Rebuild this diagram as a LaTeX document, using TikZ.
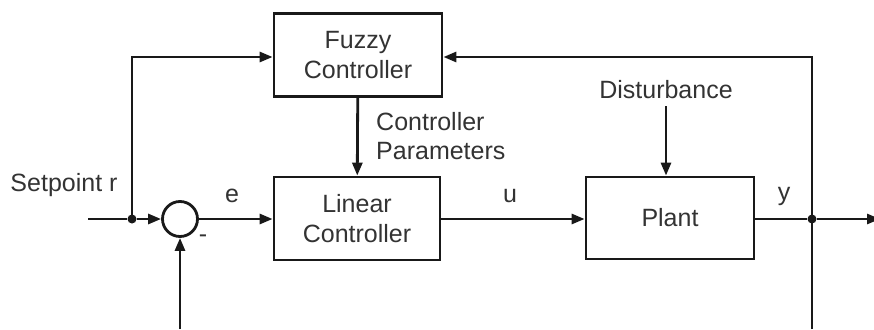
\documentclass[tikz,border=0pt]{standalone}
\usepackage{fontspec}
\setmainfont{Liberation Sans}
\usetikzlibrary{arrows.meta}
\begin{document}
\begin{tikzpicture}[x=1pt,y=-1pt,
  blk/.style={draw=black!90, line width=2.8pt, minimum width=168pt, minimum height=83pt, inner sep=0pt, align=center, text=black!80, font=\fontsize{25}{30}\selectfont},
  lbl/.style={text=black!80, font=\fontsize{25}{29}\selectfont, inner sep=0pt},
  wire/.style={line width=2.8pt, draw=black!90},
  arr/.style={wire, -{Triangle[length=13pt,width=10pt]}},
  dot/.style={circle, fill=black!90, minimum size=9pt, inner sep=0pt}]
\useasboundingbox (0,0) rectangle (874,329);
\node[blk] (fuzzy) at (358,55) {Fuzzy\\Controller};
\node[blk, minimum width=166pt] (linear) at (357,218.5) {Linear\\Controller};
\node[blk, minimum height=82pt] (plant) at (670,218) {Plant};
\node[circle, draw=black!90, line width=2.8pt, minimum size=35pt, inner sep=0pt] (sum) at (180,219) {};
\node[dot] (j1) at (132,219) {};
\node[dot] (j2) at (812,219) {};
\coordinate (in) at (88,219);
\coordinate (out) at (880,219);
\coordinate (tl) at (132,57);
\coordinate (tr) at (812,57);
\coordinate (bl) at (180,329);
\coordinate (br) at (812,329);
\coordinate (dist) at (666,106);
% wires
\draw[wire] (in) -- (j1);
\draw[arr] (j1) -- (sum);
\draw[arr] (j1.center) -- (tl) -- (fuzzy.west |- tl);
\draw[arr] (sum) -- (linear.west |- sum);
\draw[arr] (linear.east |- j1) -- (plant.west |- j1);
\draw[wire] (plant.east |- j2) -- (j2);
\draw[arr] (j2) -- (out);
\draw[arr] (br) -- (tr) -- (fuzzy.east |- tr);
\draw[arr] (bl) -- (sum);
\draw[arr] (fuzzy) -- (linear);
\draw[arr] (dist) -- (plant.north -| dist);
% labels
\node[lbl] (sp) at (64,185) {Setpoint r};
\node[lbl] (e) at (232,196) {e};
\node[lbl] (u) at (510,196) {u};
\node[lbl] (y) at (784,196) {y};
\node[lbl] (minus) at (203,239) {-};
\node[lbl] (dl) at (666,90) {Disturbance};
\node[lbl, anchor=west, align=left] (cp) at (376,136) {Controller\\Parameters};
\end{tikzpicture}
\end{document}
